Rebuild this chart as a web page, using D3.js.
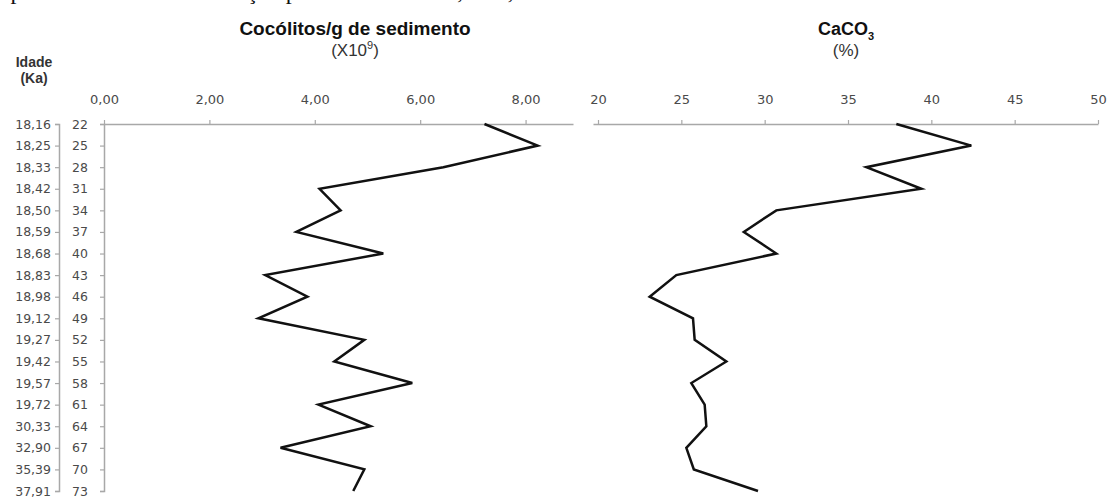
<!DOCTYPE html>
<html><head><meta charset="utf-8">
<script src="https://cdn.jsdelivr.net/npm/d3@7"></script>
<style>body{margin:0;background:#fff}svg{display:block}</style>
</head><body>
<script>
// ---- data ----
const depths = [22,25,28,31,34,37,40,43,46,49,52,55,58,61,64,67,70,73];
const ages = ["18,16","18,25","18,33","18,42","18,50","18,59","18,68","18,83","18,98","19,12","19,27","19,42","19,57","19,72","30,33","32,90","35,39","37,91"];
const cocolitos = [7.22,8.23,6.44,4.09,4.49,3.65,5.30,3.06,3.86,2.93,4.94,4.37,5.85,4.07,5.06,3.35,4.94,4.73];
const caco3 = [37.9,42.4,36.1,39.4,30.7,28.75,30.7,24.7,23.1,25.7,25.8,27.7,25.6,26.4,26.5,25.3,25.75,29.6];
const cocTicks = [0,2,4,6,8];
const cacTicks = [20,25,30,35,40,45,50];

const W = 1108, H = 502;
const svg = d3.select("body").append("svg").attr("width", W).attr("height", H);

// cut-off caption line at top (only its lower part is visible, as in the source)
svg.append("text").attr("x", 0).attr("y", 0)
  .attr("font-family", "Liberation Serif").attr("font-size", 16).attr("fill", "#111")
  .attr("textLength", 530).attr("lengthAdjust", "spacingAndGlyphs")
  .text("apresentaram uma correlação positiva e elevada, mas, e");

const y = d3.scaleLinear().domain([22, 73]).range([124, 491]);
const xL = d3.scaleLinear().domain([0, 8.9]).range([104, 573]);
const xR = d3.scaleLinear().domain([19.7, 50]).range([593, 1098]);

const axisColor = "#a8a8a8";
const tickFont = "DejaVu Sans";
const fmt = d => d.toFixed(2).replace(".", ",");

function styleAxis(g, size) {
  g.selectAll("path.domain").attr("stroke", axisColor).attr("stroke-width", 1.5);
  g.selectAll(".tick line").attr("stroke", axisColor).attr("stroke-width", 1.2);
  g.selectAll(".tick text").attr("fill", "#4a4a4a").attr("font-family", tickFont).attr("font-size", size);
}

// top axes
const gL = svg.append("g").attr("transform", `translate(0,${y(22)})`)
  .call(d3.axisTop(xL).tickValues(cocTicks).tickFormat(fmt).tickSizeInner(4).tickSizeOuter(0).tickPadding(16));
styleAxis(gL, 13);
const gR = svg.append("g").attr("transform", `translate(0,${y(22)})`)
  .call(d3.axisTop(xR).tickValues(cacTicks).tickFormat(d3.format("d")).tickSizeInner(4).tickSizeOuter(0).tickPadding(16));
styleAxis(gR, 13);

// depth axis
const gD = svg.append("g").attr("transform", `translate(${xL(0)},0)`)
  .call(d3.axisLeft(y).tickValues(depths).tickFormat(d3.format("d")).tickSizeInner(4).tickSizeOuter(4).tickPadding(12));
styleAxis(gD, 12.5);

// age axis
const yAge = d3.scalePoint().domain(ages).range([y(22), y(73)]);
const gA = svg.append("g").attr("transform", "translate(59,0)")
  .call(d3.axisLeft(yAge).tickSizeInner(4).tickSizeOuter(4).tickPadding(4));
styleAxis(gA, 12.5);

// lines
const rows = depths.map((d, i) => ({d, c: cocolitos[i], k: caco3[i]}));
svg.append("path").datum(rows)
  .attr("fill", "none").attr("stroke", "#111").attr("stroke-width", 2.5).attr("stroke-linejoin", "miter")
  .attr("d", d3.line().x(r => xL(r.c)).y(r => y(r.d)));
svg.append("path").datum(rows)
  .attr("fill", "none").attr("stroke", "#111").attr("stroke-width", 2.5).attr("stroke-linejoin", "miter")
  .attr("d", d3.line().x(r => xR(r.k)).y(r => y(r.d)));

// titles
const tf = "Liberation Sans";
svg.append("text").attr("x", 355).attr("y", 35).attr("text-anchor", "middle")
  .attr("font-family", tf).attr("font-weight", "bold").attr("font-size", 19).attr("fill", "#111")
  .text("Cocólitos/g de sedimento");
const t2 = svg.append("text").attr("x", 355).attr("y", 56).attr("text-anchor", "middle")
  .attr("font-family", tf).attr("font-size", 17).attr("fill", "#333");
t2.append("tspan").text("(X10");
t2.append("tspan").attr("dy", -7).attr("font-size", 11).text("9");
t2.append("tspan").attr("dy", 7).text(")");

const t3 = svg.append("text").attr("x", 846).attr("y", 35).attr("text-anchor", "middle")
  .attr("font-family", tf).attr("font-weight", "bold").attr("font-size", 18).attr("fill", "#111");
t3.append("tspan").text("CaCO");
t3.append("tspan").attr("dy", 5).attr("font-size", 11).text("3");
svg.append("text").attr("x", 846).attr("y", 56).attr("text-anchor", "middle")
  .attr("font-family", tf).attr("font-size", 17).attr("fill", "#333").text("(%)");

svg.append("text").attr("x", 34).attr("y", 67).attr("text-anchor", "middle")
  .attr("font-family", tf).attr("font-weight", "bold").attr("font-size", 14).attr("fill", "#333").text("Idade");
svg.append("text").attr("x", 34).attr("y", 83).attr("text-anchor", "middle")
  .attr("font-family", tf).attr("font-weight", "bold").attr("font-size", 14).attr("fill", "#333").text("(Ka)");
</script>
</body></html>
